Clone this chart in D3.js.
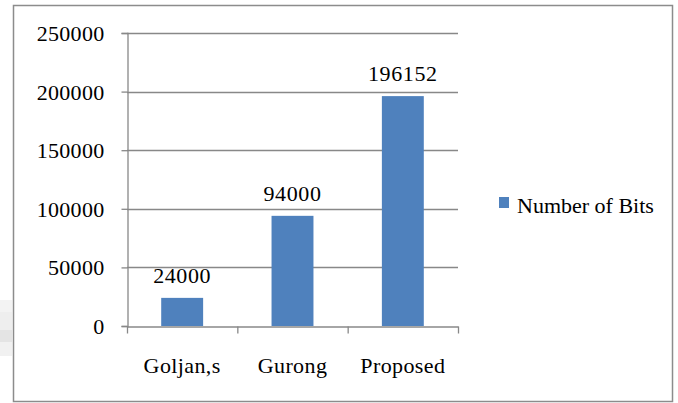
<!DOCTYPE html>
<html>
<head>
<meta charset="utf-8">
<script src="https://cdn.jsdelivr.net/npm/d3@7"></script>
<style>
  html, body { margin: 0; padding: 0; background: #fff; }
</style>
</head>
<body>
<svg id="chart" width="678" height="403"></svg>
<script>
// Number of bits per method
const categories = ["Goljan,s", "Gurong", "Proposed"];
const bits = [24000, 94000, 196152];
const yTicks = [0, 50000, 100000, 150000, 200000, 250000];
const seriesName = "Number of Bits";

const FONT = "'Liberation Serif', 'Times New Roman', Times, serif";
const svg = d3.select("#chart");
const barColor = "#4f81bd";
const gridColor = "#888888";

function serif(sel, spacing) {
  return sel.style("font-family", FONT).style("font-size", "22px")
    .style("letter-spacing", (spacing || 0) + "px").attr("fill", "#000");
}

// faint smudge at the left edge outside the frame
const smudge = svg.append("g");
[[300, 12, "#f3f3f3"], [312, 18, "#eeeeee"], [330, 12, "#e4e4e4"], [342, 14, "#f1f1f1"]]
  .forEach(([y, h, c]) => smudge.append("rect")
    .attr("x", 0).attr("y", y).attr("width", 12).attr("height", h).attr("fill", c));

// outer frame
svg.append("rect")
  .attr("x", 13.5).attr("y", 5.5).attr("width", 659).attr("height", 396)
  .attr("fill", "none").attr("stroke", "#8c8c8c").attr("stroke-width", 1.5);

const plot = { left: 127, right: 458, top: 33, bottom: 326 };

const x = d3.scaleBand().domain(categories)
  .range([plot.left, plot.right]).paddingInner(0).paddingOuter(0);
const y = d3.scaleLinear().domain([0, 250000]).range([plot.bottom, plot.top]);

// horizontal gridlines
svg.append("g").selectAll("line").data(yTicks.filter(d => d > 0)).join("line")
  .attr("x1", plot.left).attr("x2", plot.right)
  .attr("y1", d => Math.round(y(d)) + 0.5).attr("y2", d => Math.round(y(d)) + 0.5)
  .attr("stroke", gridColor).attr("stroke-width", 1.3);

// y axis
const yAxis = svg.append("g")
  .attr("transform", `translate(${plot.left + 0.5},0)`)
  .call(d3.axisLeft(y).tickValues(yTicks).tickSize(6).tickPadding(17).tickFormat(d3.format("d")));
yAxis.attr("font-family", null).attr("font-size", null);
yAxis.select(".domain").attr("stroke", gridColor).attr("stroke-width", 1.3);
yAxis.selectAll(".tick line").attr("stroke", gridColor).attr("stroke-width", 1.3);
serif(yAxis.selectAll(".tick text"), 0.3).attr("dy", "0.34em");

// bars
const barW = x.bandwidth() * 0.38;
svg.append("g").selectAll("rect").data(bits).join("rect")
  .attr("x", (d, i) => x(categories[i]) + (x.bandwidth() - barW) / 2)
  .attr("y", d => y(d))
  .attr("width", barW)
  .attr("height", d => y(0) - y(d))
  .attr("fill", barColor);

// value labels
serif(svg.append("g").selectAll("text").data(bits).join("text")
  .attr("x", (d, i) => x(categories[i]) + x.bandwidth() / 2)
  .attr("y", d => y(d) - 15)
  .attr("text-anchor", "middle")
  .text(d => d), 0.6);

// x axis
const xAxis = svg.append("g")
  .attr("transform", `translate(0,${plot.bottom + 0.5})`)
  .call(d3.axisBottom(x).tickSize(0).tickPadding(0).tickFormat(""));
xAxis.attr("font-family", null).attr("font-size", null);
xAxis.select(".domain").attr("stroke", gridColor).attr("stroke-width", 1.3);
xAxis.selectAll(".tick").remove();
// boundary tick marks between categories
const bounds = [plot.left, ...categories.map(c => x(c) + x.bandwidth())];
xAxis.selectAll("line.bound").data(bounds).join("line")
  .attr("class", "bound")
  .attr("x1", d => d + 0.5).attr("x2", d => d + 0.5)
  .attr("y1", 0).attr("y2", 7)
  .attr("stroke", gridColor).attr("stroke-width", 1.3);
serif(xAxis.selectAll("text.cat").data(categories).join("text")
  .attr("class", "cat")
  .attr("x", d => x(d) + x.bandwidth() / 2)
  .attr("y", 46)
  .attr("text-anchor", "middle")
  .text(d => d), 0.4);

// legend
const legend = svg.append("g").attr("transform", "translate(499,197)");
legend.append("rect").attr("width", 10).attr("height", 11).attr("fill", barColor);
serif(legend.append("text").attr("x", 18).attr("y", 16).text(seriesName));
</script>
</body>
</html>
